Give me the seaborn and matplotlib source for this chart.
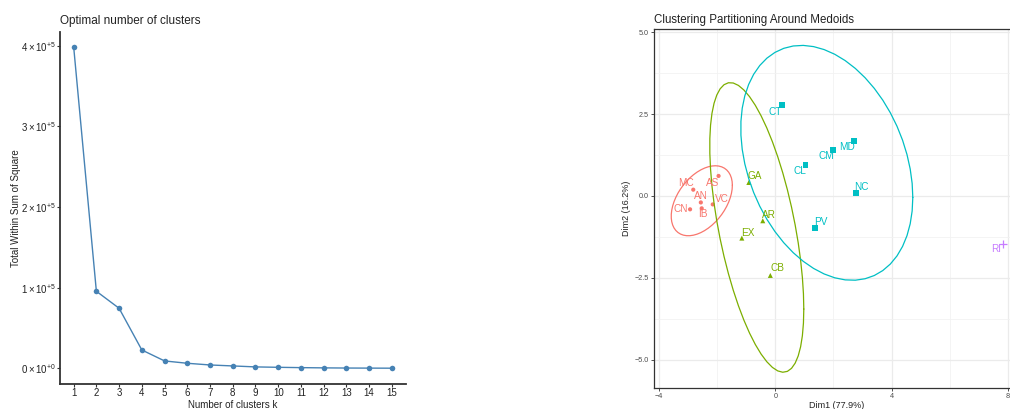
import numpy as np
import pandas as pd
import matplotlib
matplotlib.use("Agg")
import matplotlib.pyplot as plt
import seaborn as sns

# ---- Elbow data -----------------------------------------------------------
k_values = list(range(1, 16))
wss = [3.99e5, 0.955e5, 0.744e5, 0.227e5, 0.091e5, 0.062e5, 0.041e5,
       0.029e5, 0.017e5, 0.012e5, 0.008e5, 0.005e5, 0.003e5, 0.002e5, 0.001e5]
wss_ticks = [0, 1e5, 2e5, 3e5, 4e5]
wss_tick_labels = [r"$0\times10^{+0}$", r"$1\times10^{+5}$", r"$2\times10^{+5}$",
                   r"$3\times10^{+5}$", r"$4\times10^{+5}$"]

# ---- PAM cluster data (PCA coordinates) ------------------------------------
regions = ["AS", "MC", "AN", "IB", "CN", "VC",
           "GA", "AR", "EX", "CB",
           "CT", "CM", "MD", "CL", "NC", "PV",
           "RI"]
dim1 = [-1.95, -2.82, -2.56, -2.53, -2.93, -2.15,
        -0.91, -0.43, -1.15, -0.17,
        0.22, 2.00, 2.72, 1.04, 2.79, 1.38,
        7.84]
dim2 = [0.61, 0.19, -0.20, -0.38, -0.41, -0.26,
        0.41, -0.76, -1.29, -2.43,
        2.79, 1.41, 1.68, 0.95, 0.10, -0.97,
        -1.47]
cluster = ["1"] * 6 + ["2"] * 4 + ["3"] * 6 + ["4"]

# label nudges in pixels (dx, dy)
label_nudge = {
    "AS": (-6, -7), "MC": (-7, 7), "AN": (0, 6), "IB": (1, -6), "CN": (-9, 0),
    "VC": (9, 5), "GA": (6, 6), "AR": (6, 6), "EX": (6, 5), "CB": (7, 7),
    "CT": (-6, -7), "CM": (-7, -6), "MD": (-7, -6), "CL": (-6, -6),
    "NC": (5, 6), "PV": (5, 6), "RI": (-7, -5),
}

palette = {"1": "#F8766D", "2": "#7CAE00", "3": "#00BFC4", "4": "#C77CFF"}
markers = {"1": "o", "2": "^", "3": "s", "4": "+"}
msizes = {"1": 9, "2": 13, "3": 18, "4": 30}

df = pd.DataFrame({"region": regions, "Dim1": dim1, "Dim2": dim2, "cluster": cluster})
elbow = pd.DataFrame({"k": k_values, "wss": wss})


def cov_trob(xy, nu=5, maxit=25, tol=0.01):
    """Robust multivariate-t location/scatter (as in MASS::cov.trob)."""
    n, p = xy.shape
    wt = np.ones(n)
    loc = xy.mean(axis=0)
    w = np.sqrt(wt)
    X = xy - loc
    for _ in range(maxit):
        w0 = w
        X = xy - loc
        _, d, vt = np.linalg.svd(np.sqrt(w / w.sum())[:, None] * X, full_matrices=False)
        wX = X @ vt.T @ np.diag(1.0 / d)
        Q = (wX ** 2).sum(axis=1)
        w = wt * (nu + p) / (nu + Q)
        loc = (w[:, None] * xy).sum(axis=0) / w.sum()
        if np.all(np.abs(w - w0) < tol):
            break
    sX = np.sqrt(w)[:, None] * X
    cov = sX.T @ sX / wt.sum()
    return loc, cov


def ellipse_path(xy, level=0.95, segments=51):
    n = xy.shape[0]
    center, shape = cov_trob(xy)
    dfd = n - 1
    fq = (dfd / 2.0) * ((1 - level) ** (-2.0 / dfd) - 1)  # F quantile, dfn = 2
    radius = np.sqrt(2 * fq)
    ang = np.arange(segments + 1) * 2 * np.pi / segments
    circ = np.column_stack([np.cos(ang), np.sin(ang)])
    L = np.linalg.cholesky(shape)
    pts = center + radius * (circ @ L.T)
    return pts


sns.set_theme(style="white")
plt.rcParams["font.family"] = ["Liberation Sans", "DejaVu Sans"]
plt.rcParams["mathtext.fontset"] = "custom"
plt.rcParams["mathtext.rm"] = "Liberation Sans"
plt.rcParams["mathtext.it"] = "Liberation Sans:italic"

W, H = 1010, 409
fig = plt.figure(figsize=(W / 100, H / 100), dpi=100)
fig.patch.set_facecolor("white")

# ---------------- Left: elbow plot ----------------
ax1 = fig.add_axes([60 / W, 1 - 384 / H, 345.5 / W, (384 - 32) / H])
sns.lineplot(data=elbow, x="k", y="wss", ax=ax1, color="#4682B4", lw=1.0,
             marker="o", markersize=4.0, markeredgewidth=0, markeredgecolor="#4682B4")
ax1.set_xlim(0.4, 15.6)
ax1.set_ylim(-0.195e5, 4.17e5)
ax1.set_xticks(k_values)
ax1.set_yticks(wss_ticks)
ax1.set_yticklabels(wss_tick_labels)
for s in ["top", "right"]:
    ax1.spines[s].set_visible(False)
for s in ["left", "bottom"]:
    ax1.spines[s].set_color("#333333")
    ax1.spines[s].set_linewidth(1.3)
ax1.tick_params(axis="both", which="major", length=2, width=0.8, color="#333333",
                labelsize=7, labelcolor="#222222", pad=1, left=True, bottom=True)
ax1.set_xlabel("Number of clusters k", fontsize=7, color="#222222", labelpad=1)
ax1.set_ylabel("Total Within Sum of Square", fontsize=7, color="#222222", labelpad=0)
ax1.set_title("Optimal number of clusters", loc="left", fontsize=8.5,
              color="#222222", pad=6)
ax1.grid(False)

# ---------------- Right: PAM cluster plot ----------------
px_unit_x = 29.08
x_left, x_right = -4.16, 8.41
ax_left_px = 654.3
ax_w_px = (x_right - x_left) * px_unit_x
ax2 = fig.add_axes([ax_left_px / W, 1 - 387.7 / H, ax_w_px / W, (387.7 - 29.3) / H])
ax2.set_xlim(x_left, x_right)
ax2.set_ylim(-5.86, 5.09)
ax2.set_xticks([-4, 0, 4, 8])
ax2.set_xticks([-2, 2, 6], minor=True)
ax2.set_yticks([-5.0, -2.5, 0.0, 2.5, 5.0])
ax2.set_yticks([-3.75, -1.25, 1.25, 3.75], minor=True)
ax2.set_yticklabels(["\u22125.0", "\u22122.5", "0.0", "2.5", "5.0"])
ax2.set_xticklabels(["\u22124", "0", "4", "8"])
ax2.grid(which="major", color="#EBEBEB", lw=0.9)
ax2.grid(which="minor", color="#F2F2F2", lw=0.6)
ax2.set_axisbelow(True)
for s in ax2.spines.values():
    s.set_color("#333333")
    s.set_linewidth(0.9)
ax2.tick_params(axis="both", which="major", length=2.5, width=0.6, color="#333333",
                labelsize=5.2, labelcolor="#4D4D4D", pad=1.2, left=True, bottom=True)
ax2.tick_params(which="minor", length=0)

for c in ["1", "2", "3"]:
    sub = df[df["cluster"] == c]
    pts = ellipse_path(sub[["Dim1", "Dim2"]].to_numpy())
    epts = pd.DataFrame({"x": pts[:, 0], "y": pts[:, 1]})
    sns.lineplot(data=epts, x="x", y="y", sort=False, estimator=None, ax=ax2,
                 color=palette[c], lw=0.9)

for c in ["1", "2", "3", "4"]:
    sub = df[df["cluster"] == c]
    kw = dict(edgecolor="none") if markers[c] != "+" else dict(linewidth=0.9)
    sns.scatterplot(data=sub, x="Dim1", y="Dim2", ax=ax2, color=palette[c],
                    marker=markers[c], s=msizes[c], legend=False, **kw)

for r, x, y, c in zip(regions, dim1, dim2, cluster):
    dx, dy = label_nudge[r]
    ax2.annotate(r, (x, y), xytext=(dx, dy), textcoords="offset pixels",
                 ha="center", va="center", fontsize=7.2, color=palette[c])

ax2.set_xlabel("Dim1 (77.9%)", fontsize=6.5, color="#222222", labelpad=0.5)
ax2.set_ylabel("Dim2 (16.2%)", fontsize=6.5, color="#222222", labelpad=3)
ax2.set_title("Clustering Partitioning Around Medoids", loc="left", fontsize=8.3,
              color="#222222", pad=4.5)

fig.savefig("out.png", dpi=100, facecolor="white")
